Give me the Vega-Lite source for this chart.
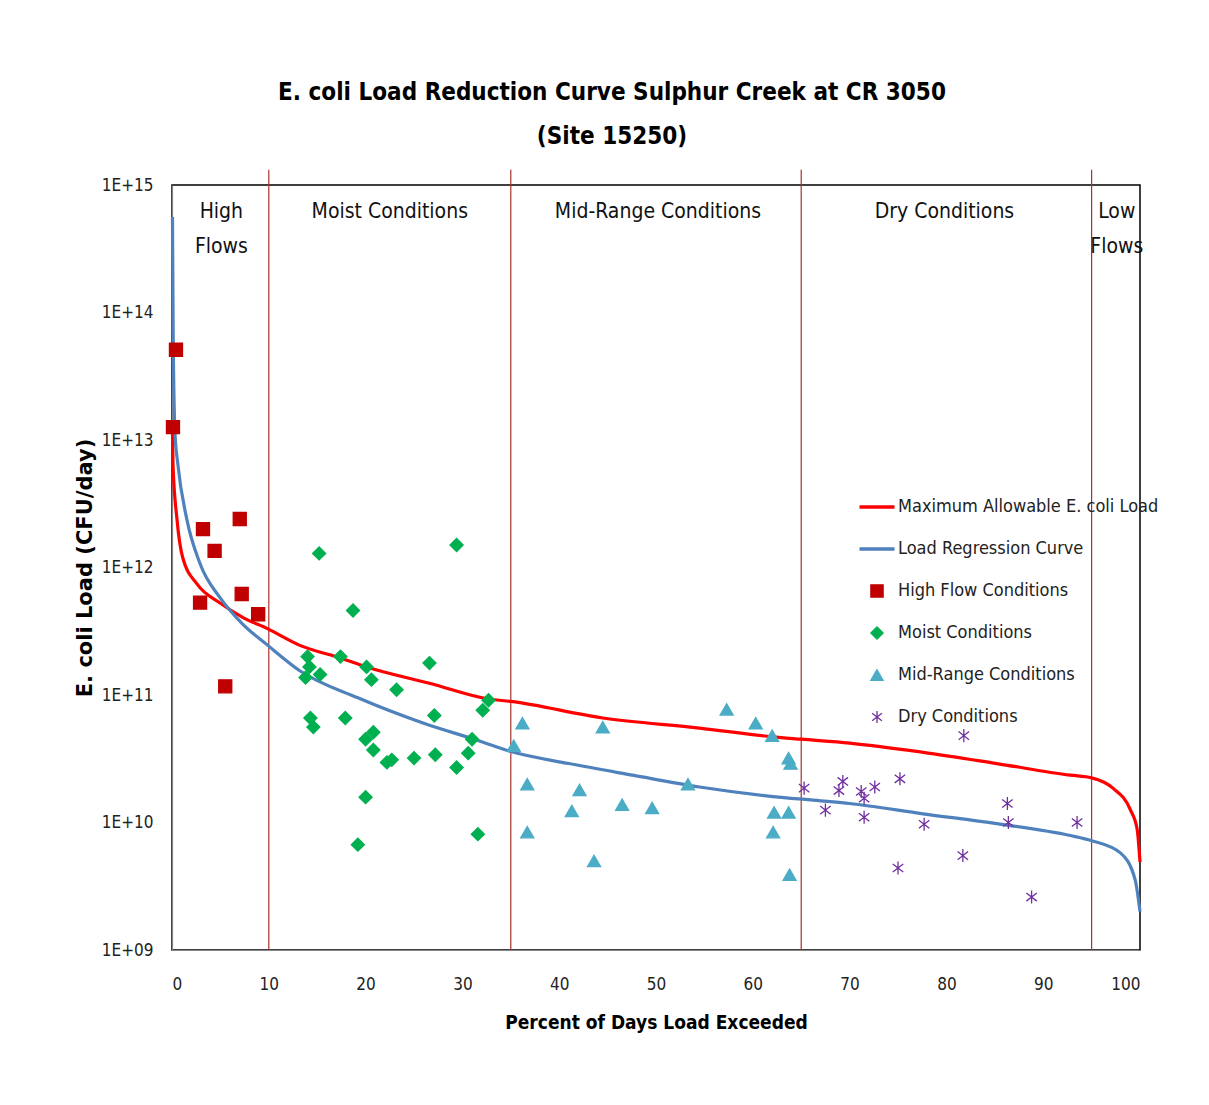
{
  "$schema": "https://vega.github.io/schema/vega-lite/v6.json",
  "width": 968,
  "height": 765,
  "autosize": {"type": "none"},
  "padding": {"left": 172, "top": 185, "right": 69, "bottom": 155},
  "background": "white",
  "title": {
    "text": ["E. coli Load Reduction Curve Sulphur Creek at CR 3050", "(Site 15250)"],
    "font": "DejaVu Sans Condensed, sans-serif",
    "fontSize": 24,
    "fontWeight": "bold",
    "color": "#000000",
    "lineHeight": 44,
    "offset": 20,
    "dx": -44
  },
  "config": {
    "view": {"stroke": "#000000", "strokeWidth": 1.5},
    "axis": {
      "grid": false,
      "ticks": false,
      "domainColor": "#868686",
      "domainWidth": 1.2,
      "labelFont": "DejaVu Sans Condensed, sans-serif",
      "labelFontSize": 17,
      "labelColor": "#222222",
      "titleColor": "#000000"
    }
  },
  "datasets": {
    "rules": [{"x": 10}, {"x": 35}, {"x": 65}, {"x": 95}],
    "regions": [
      {"label": "High\nFlows", "x": 5.1},
      {"label": "Moist Conditions", "x": 22.5},
      {"label": "Mid-Range Conditions", "x": 50.2},
      {"label": "Dry Conditions", "x": 79.8},
      {"label": "Low\nFlows", "x": 97.6}
    ],
    "curves": [
      {"series": "Maximum Allowable E. coli Load", "x": 0.05, "load": 1.23e13},
      {"series": "Maximum Allowable E. coli Load", "x": 0.1, "load": 6.5e12},
      {"series": "Maximum Allowable E. coli Load", "x": 0.5, "load": 2.45e12},
      {"series": "Maximum Allowable E. coli Load", "x": 1.1, "load": 1.2e12},
      {"series": "Maximum Allowable E. coli Load", "x": 2.6, "load": 7.4e11},
      {"series": "Maximum Allowable E. coli Load", "x": 5.0, "load": 5.25e11},
      {"series": "Maximum Allowable E. coli Load", "x": 7.3, "load": 4.07e11},
      {"series": "Maximum Allowable E. coli Load", "x": 9.9, "load": 3.3e11},
      {"series": "Maximum Allowable E. coli Load", "x": 13.2, "load": 2.45e11},
      {"series": "Maximum Allowable E. coli Load", "x": 17.4, "load": 1.95e11},
      {"series": "Maximum Allowable E. coli Load", "x": 20.1, "load": 1.66e11},
      {"series": "Maximum Allowable E. coli Load", "x": 26.7, "load": 1.23e11},
      {"series": "Maximum Allowable E. coli Load", "x": 32.7, "load": 9.3e10},
      {"series": "Maximum Allowable E. coli Load", "x": 35.0, "load": 8.9e10},
      {"series": "Maximum Allowable E. coli Load", "x": 44.5, "load": 6.6e10},
      {"series": "Maximum Allowable E. coli Load", "x": 54.5, "load": 5.5e10},
      {"series": "Maximum Allowable E. coli Load", "x": 62.0, "load": 4.7e10},
      {"series": "Maximum Allowable E. coli Load", "x": 65.0, "load": 4.5e10},
      {"series": "Maximum Allowable E. coli Load", "x": 70.0, "load": 4.2e10},
      {"series": "Maximum Allowable E. coli Load", "x": 77.6, "load": 3.55e10},
      {"series": "Maximum Allowable E. coli Load", "x": 85.2, "load": 2.9e10},
      {"series": "Maximum Allowable E. coli Load", "x": 92.8, "load": 2.35e10},
      {"series": "Maximum Allowable E. coli Load", "x": 95.0, "load": 2.24e10},
      {"series": "Maximum Allowable E. coli Load", "x": 97.2, "load": 1.86e10},
      {"series": "Maximum Allowable E. coli Load", "x": 99.0, "load": 1.26e10},
      {"series": "Maximum Allowable E. coli Load", "x": 99.7, "load": 8.9e9},
      {"series": "Maximum Allowable E. coli Load", "x": 100.0, "load": 4.9e9},
      {"series": "Load Regression Curve", "x": 0.05, "load": 5.6e14},
      {"series": "Load Regression Curve", "x": 0.12, "load": 7.1e13},
      {"series": "Load Regression Curve", "x": 0.3, "load": 1.17e13},
      {"series": "Load Regression Curve", "x": 0.6, "load": 6.5e12},
      {"series": "Load Regression Curve", "x": 1.5, "load": 2.45e12},
      {"series": "Load Regression Curve", "x": 2.9, "load": 1.07e12},
      {"series": "Load Regression Curve", "x": 5.0, "load": 5.75e11},
      {"series": "Load Regression Curve", "x": 7.3, "load": 3.6e11},
      {"series": "Load Regression Curve", "x": 9.9, "load": 2.45e11},
      {"series": "Load Regression Curve", "x": 13.2, "load": 1.55e11},
      {"series": "Load Regression Curve", "x": 19.2, "load": 9.5e10},
      {"series": "Load Regression Curve", "x": 26.0, "load": 6.0e10},
      {"series": "Load Regression Curve", "x": 31.6, "load": 4.4e10},
      {"series": "Load Regression Curve", "x": 35.0, "load": 3.6e10},
      {"series": "Load Regression Curve", "x": 41.0, "load": 2.9e10},
      {"series": "Load Regression Curve", "x": 47.6, "load": 2.35e10},
      {"series": "Load Regression Curve", "x": 54.5, "load": 1.9e10},
      {"series": "Load Regression Curve", "x": 61.4, "load": 1.62e10},
      {"series": "Load Regression Curve", "x": 67.0, "load": 1.48e10},
      {"series": "Load Regression Curve", "x": 70.0, "load": 1.41e10},
      {"series": "Load Regression Curve", "x": 77.6, "load": 1.17e10},
      {"series": "Load Regression Curve", "x": 85.2, "load": 9.8e9},
      {"series": "Load Regression Curve", "x": 92.8, "load": 7.9e9},
      {"series": "Load Regression Curve", "x": 95.0, "load": 7.2e9},
      {"series": "Load Regression Curve", "x": 98.0, "load": 5.75e9},
      {"series": "Load Regression Curve", "x": 99.5, "load": 3.55e9},
      {"series": "Load Regression Curve", "x": 100.0, "load": 2.0e9}
    ],
    "samples": [
      {"series": "High Flow Conditions", "x": 0.41, "load": 5.1e13},
      {"series": "High Flow Conditions", "x": 0.1, "load": 1.26e13},
      {"series": "High Flow Conditions", "x": 3.2, "load": 2.0e12},
      {"series": "High Flow Conditions", "x": 7.0, "load": 2.4e12},
      {"series": "High Flow Conditions", "x": 4.4, "load": 1.35e12},
      {"series": "High Flow Conditions", "x": 2.9, "load": 5.3e11},
      {"series": "High Flow Conditions", "x": 7.2, "load": 6.2e11},
      {"series": "High Flow Conditions", "x": 8.9, "load": 4.3e11},
      {"series": "High Flow Conditions", "x": 5.5, "load": 1.17e11},
      {"series": "Moist Conditions", "x": 15.2, "load": 1.29e12},
      {"series": "Moist Conditions", "x": 29.4, "load": 1.5e12},
      {"series": "Moist Conditions", "x": 18.7, "load": 4.6e11},
      {"series": "Moist Conditions", "x": 14.0, "load": 2.0e11},
      {"series": "Moist Conditions", "x": 14.2, "load": 1.66e11},
      {"series": "Moist Conditions", "x": 13.8, "load": 1.37e11},
      {"series": "Moist Conditions", "x": 15.3, "load": 1.45e11},
      {"series": "Moist Conditions", "x": 17.4, "load": 2.0e11},
      {"series": "Moist Conditions", "x": 20.1, "load": 1.66e11},
      {"series": "Moist Conditions", "x": 20.6, "load": 1.32e11},
      {"series": "Moist Conditions", "x": 23.2, "load": 1.1e11},
      {"series": "Moist Conditions", "x": 26.6, "load": 1.78e11},
      {"series": "Moist Conditions", "x": 32.7, "load": 9.1e10},
      {"series": "Moist Conditions", "x": 32.1, "load": 7.6e10},
      {"series": "Moist Conditions", "x": 27.1, "load": 6.9e10},
      {"series": "Moist Conditions", "x": 14.3, "load": 6.6e10},
      {"series": "Moist Conditions", "x": 14.6, "load": 5.6e10},
      {"series": "Moist Conditions", "x": 17.9, "load": 6.6e10},
      {"series": "Moist Conditions", "x": 20.8, "load": 5.1e10},
      {"series": "Moist Conditions", "x": 20.0, "load": 4.5e10},
      {"series": "Moist Conditions", "x": 20.8, "load": 3.7e10},
      {"series": "Moist Conditions", "x": 31.0, "load": 4.5e10},
      {"series": "Moist Conditions", "x": 30.6, "load": 3.5e10},
      {"series": "Moist Conditions", "x": 22.2, "load": 2.96e10},
      {"series": "Moist Conditions", "x": 22.7, "load": 3.1e10},
      {"series": "Moist Conditions", "x": 25.0, "load": 3.2e10},
      {"series": "Moist Conditions", "x": 27.2, "load": 3.4e10},
      {"series": "Moist Conditions", "x": 29.4, "load": 2.7e10},
      {"series": "Moist Conditions", "x": 20.0, "load": 1.58e10},
      {"series": "Moist Conditions", "x": 31.6, "load": 8.1e9},
      {"series": "Moist Conditions", "x": 19.2, "load": 6.7e9},
      {"series": "Mid-Range Conditions", "x": 36.2, "load": 6.0e10},
      {"series": "Mid-Range Conditions", "x": 44.5, "load": 5.6e10},
      {"series": "Mid-Range Conditions", "x": 57.3, "load": 7.7e10},
      {"series": "Mid-Range Conditions", "x": 60.3, "load": 6.0e10},
      {"series": "Mid-Range Conditions", "x": 62.0, "load": 4.8e10},
      {"series": "Mid-Range Conditions", "x": 35.3, "load": 4.0e10},
      {"series": "Mid-Range Conditions", "x": 63.7, "load": 3.2e10},
      {"series": "Mid-Range Conditions", "x": 63.9, "load": 2.9e10},
      {"series": "Mid-Range Conditions", "x": 36.7, "load": 2.0e10},
      {"series": "Mid-Range Conditions", "x": 42.1, "load": 1.8e10},
      {"series": "Mid-Range Conditions", "x": 53.3, "load": 2.0e10},
      {"series": "Mid-Range Conditions", "x": 41.3, "load": 1.23e10},
      {"series": "Mid-Range Conditions", "x": 46.5, "load": 1.38e10},
      {"series": "Mid-Range Conditions", "x": 49.6, "load": 1.3e10},
      {"series": "Mid-Range Conditions", "x": 62.2, "load": 1.2e10},
      {"series": "Mid-Range Conditions", "x": 63.7, "load": 1.2e10},
      {"series": "Mid-Range Conditions", "x": 36.7, "load": 8.4e9},
      {"series": "Mid-Range Conditions", "x": 62.1, "load": 8.4e9},
      {"series": "Mid-Range Conditions", "x": 43.6, "load": 5.0e9},
      {"series": "Mid-Range Conditions", "x": 63.8, "load": 3.9e9},
      {"series": "Dry Conditions", "x": 81.8, "load": 4.8e10},
      {"series": "Dry Conditions", "x": 65.3, "load": 1.86e10},
      {"series": "Dry Conditions", "x": 69.3, "load": 2.1e10},
      {"series": "Dry Conditions", "x": 68.9, "load": 1.78e10},
      {"series": "Dry Conditions", "x": 71.2, "load": 1.75e10},
      {"series": "Dry Conditions", "x": 71.5, "load": 1.55e10},
      {"series": "Dry Conditions", "x": 72.6, "load": 1.9e10},
      {"series": "Dry Conditions", "x": 75.2, "load": 2.2e10},
      {"series": "Dry Conditions", "x": 67.5, "load": 1.25e10},
      {"series": "Dry Conditions", "x": 71.5, "load": 1.1e10},
      {"series": "Dry Conditions", "x": 77.7, "load": 9.7e9},
      {"series": "Dry Conditions", "x": 86.3, "load": 1.41e10},
      {"series": "Dry Conditions", "x": 86.4, "load": 1.0e10},
      {"series": "Dry Conditions", "x": 93.5, "load": 1.0e10},
      {"series": "Dry Conditions", "x": 81.7, "load": 5.5e9},
      {"series": "Dry Conditions", "x": 75.0, "load": 4.4e9},
      {"series": "Dry Conditions", "x": 88.8, "load": 2.6e9}
    ]
  },
  "encoding": {
    "x": {
      "type": "quantitative",
      "scale": {"domain": [0, 100], "nice": false, "zero": false},
      "axis": {
        "values": [0, 10, 20, 30, 40, 50, 60, 70, 80, 90, 100],
        "title": "Percent of Days Load Exceeded",
        "titleFont": "DejaVu Sans Condensed, sans-serif",
        "titleFontSize": 19,
        "titleFontWeight": "bold",
        "labelPadding": 26,
        "titlePadding": 21
      }
    },
    "y": {
      "type": "quantitative",
      "scale": {"type": "log", "domain": [1e9, 1e15], "nice": false},
      "axis": {
        "values": [1e9, 1e10, 1e11, 1e12, 1e13, 1e14, 1e15],
        "labelExpr": "'1E+' + format(round(log(datum.value)/LN10), '02d')",
        "title": "E. coli Load (CFU/day)",
        "titleFont": "DejaVu Sans, sans-serif",
        "titleFontSize": 21,
        "titleFontWeight": "bold",
        "labelPadding": 19,
        "titlePadding": 6
      }
    }
  },
  "layer": [
    {
      "data": {"name": "rules"},
      "mark": {"type": "rule", "color": "#A8322D", "strokeWidth": 1.2},
      "encoding": {
        "x": {"field": "x"},
        "y": {"datum": 1e9},
        "y2": {"datum": 1.32e15}
      }
    },
    {
      "data": {"name": "regions"},
      "mark": {
        "type": "text",
        "baseline": "top",
        "align": "center",
        "lineBreak": "\n",
        "lineHeight": 35,
        "font": "DejaVu Sans Condensed, sans-serif",
        "fontSize": 21,
        "color": "#111111"
      },
      "encoding": {
        "x": {"field": "x"},
        "y": {"datum": 7.48e14},
        "text": {"field": "label"}
      }
    },
    {
      "data": {"name": "curves"},
      "mark": {"type": "line", "strokeWidth": 3.2, "interpolate": "monotone"},
      "encoding": {
        "x": {"field": "x"},
        "y": {"field": "load"},
        "color": {
          "field": "series",
          "type": "nominal",
          "scale": {
            "domain": ["Maximum Allowable E. coli Load", "Load Regression Curve", "High Flow Conditions", "Moist Conditions", "Mid-Range Conditions", "Dry Conditions"],
            "range": ["#FF0000", "#4F81BD", "#C00000", "#00B050", "#4BACC6", "#7030A0"]
          }
        }
      }
    },
    {
      "data": {"name": "samples"},
      "mark": {"type": "point", "filled": true, "opacity": 1, "size": 170, "strokeWidth": 1.3},
      "encoding": {
        "x": {"field": "x"},
        "y": {"field": "load"},
        "color": {
          "field": "series",
          "type": "nominal",
          "scale": {
            "domain": ["Maximum Allowable E. coli Load", "Load Regression Curve", "High Flow Conditions", "Moist Conditions", "Mid-Range Conditions", "Dry Conditions"],
            "range": ["#FF0000", "#4F81BD", "#C00000", "#00B050", "#4BACC6", "#7030A0"]
          },
          "legend": {
            "title": null,
            "orient": "none",
            "legendX": 696,
            "legendY": 313,
            "symbolSize": 1225,
            "labelFont": "DejaVu Sans Condensed, sans-serif",
            "labelFontSize": 18,
            "labelColor": "#222222",
            "labelLimit": 400,
            "labelOffset": 12,
            "rowPadding": 24,
            "symbolOpacity": 1,
            "encode": {
              "symbols": {
                "update": {
                  "size": {"signal": "indexof(['Maximum Allowable E. coli Load','Load Regression Curve'], datum.value) >= 0 ? 1225 : 150"},
                  "strokeWidth": {"signal": "indexof(['Maximum Allowable E. coli Load','Load Regression Curve'], datum.value) >= 0 ? 3.5 : 1.3"},
                  "fill": {"scale": "color", "field": "value"},
                  "stroke": {"scale": "color", "field": "value"},
                  "opacity": {"value": 1}
                }
              }
            }
          }
        },
        "shape": {
          "field": "series",
          "type": "nominal",
          "scale": {
            "domain": ["Maximum Allowable E. coli Load", "Load Regression Curve", "High Flow Conditions", "Moist Conditions", "Mid-Range Conditions", "Dry Conditions"],
            "range": ["stroke", "stroke", "square", "diamond", "triangle-up", "M0,-1L0,1M-0.8,-0.62L0.8,0.62M-0.8,0.62L0.8,-0.62"]
          }
        },
        "stroke": {
          "field": "series",
          "type": "nominal",
          "scale": {
            "domain": ["Maximum Allowable E. coli Load", "Load Regression Curve", "High Flow Conditions", "Moist Conditions", "Mid-Range Conditions", "Dry Conditions"],
            "range": ["#FF0000", "#4F81BD", "#C00000", "#00B050", "#4BACC6", "#7030A0"]
          },
          "legend": null
        }
      }
    }
  ]
}
